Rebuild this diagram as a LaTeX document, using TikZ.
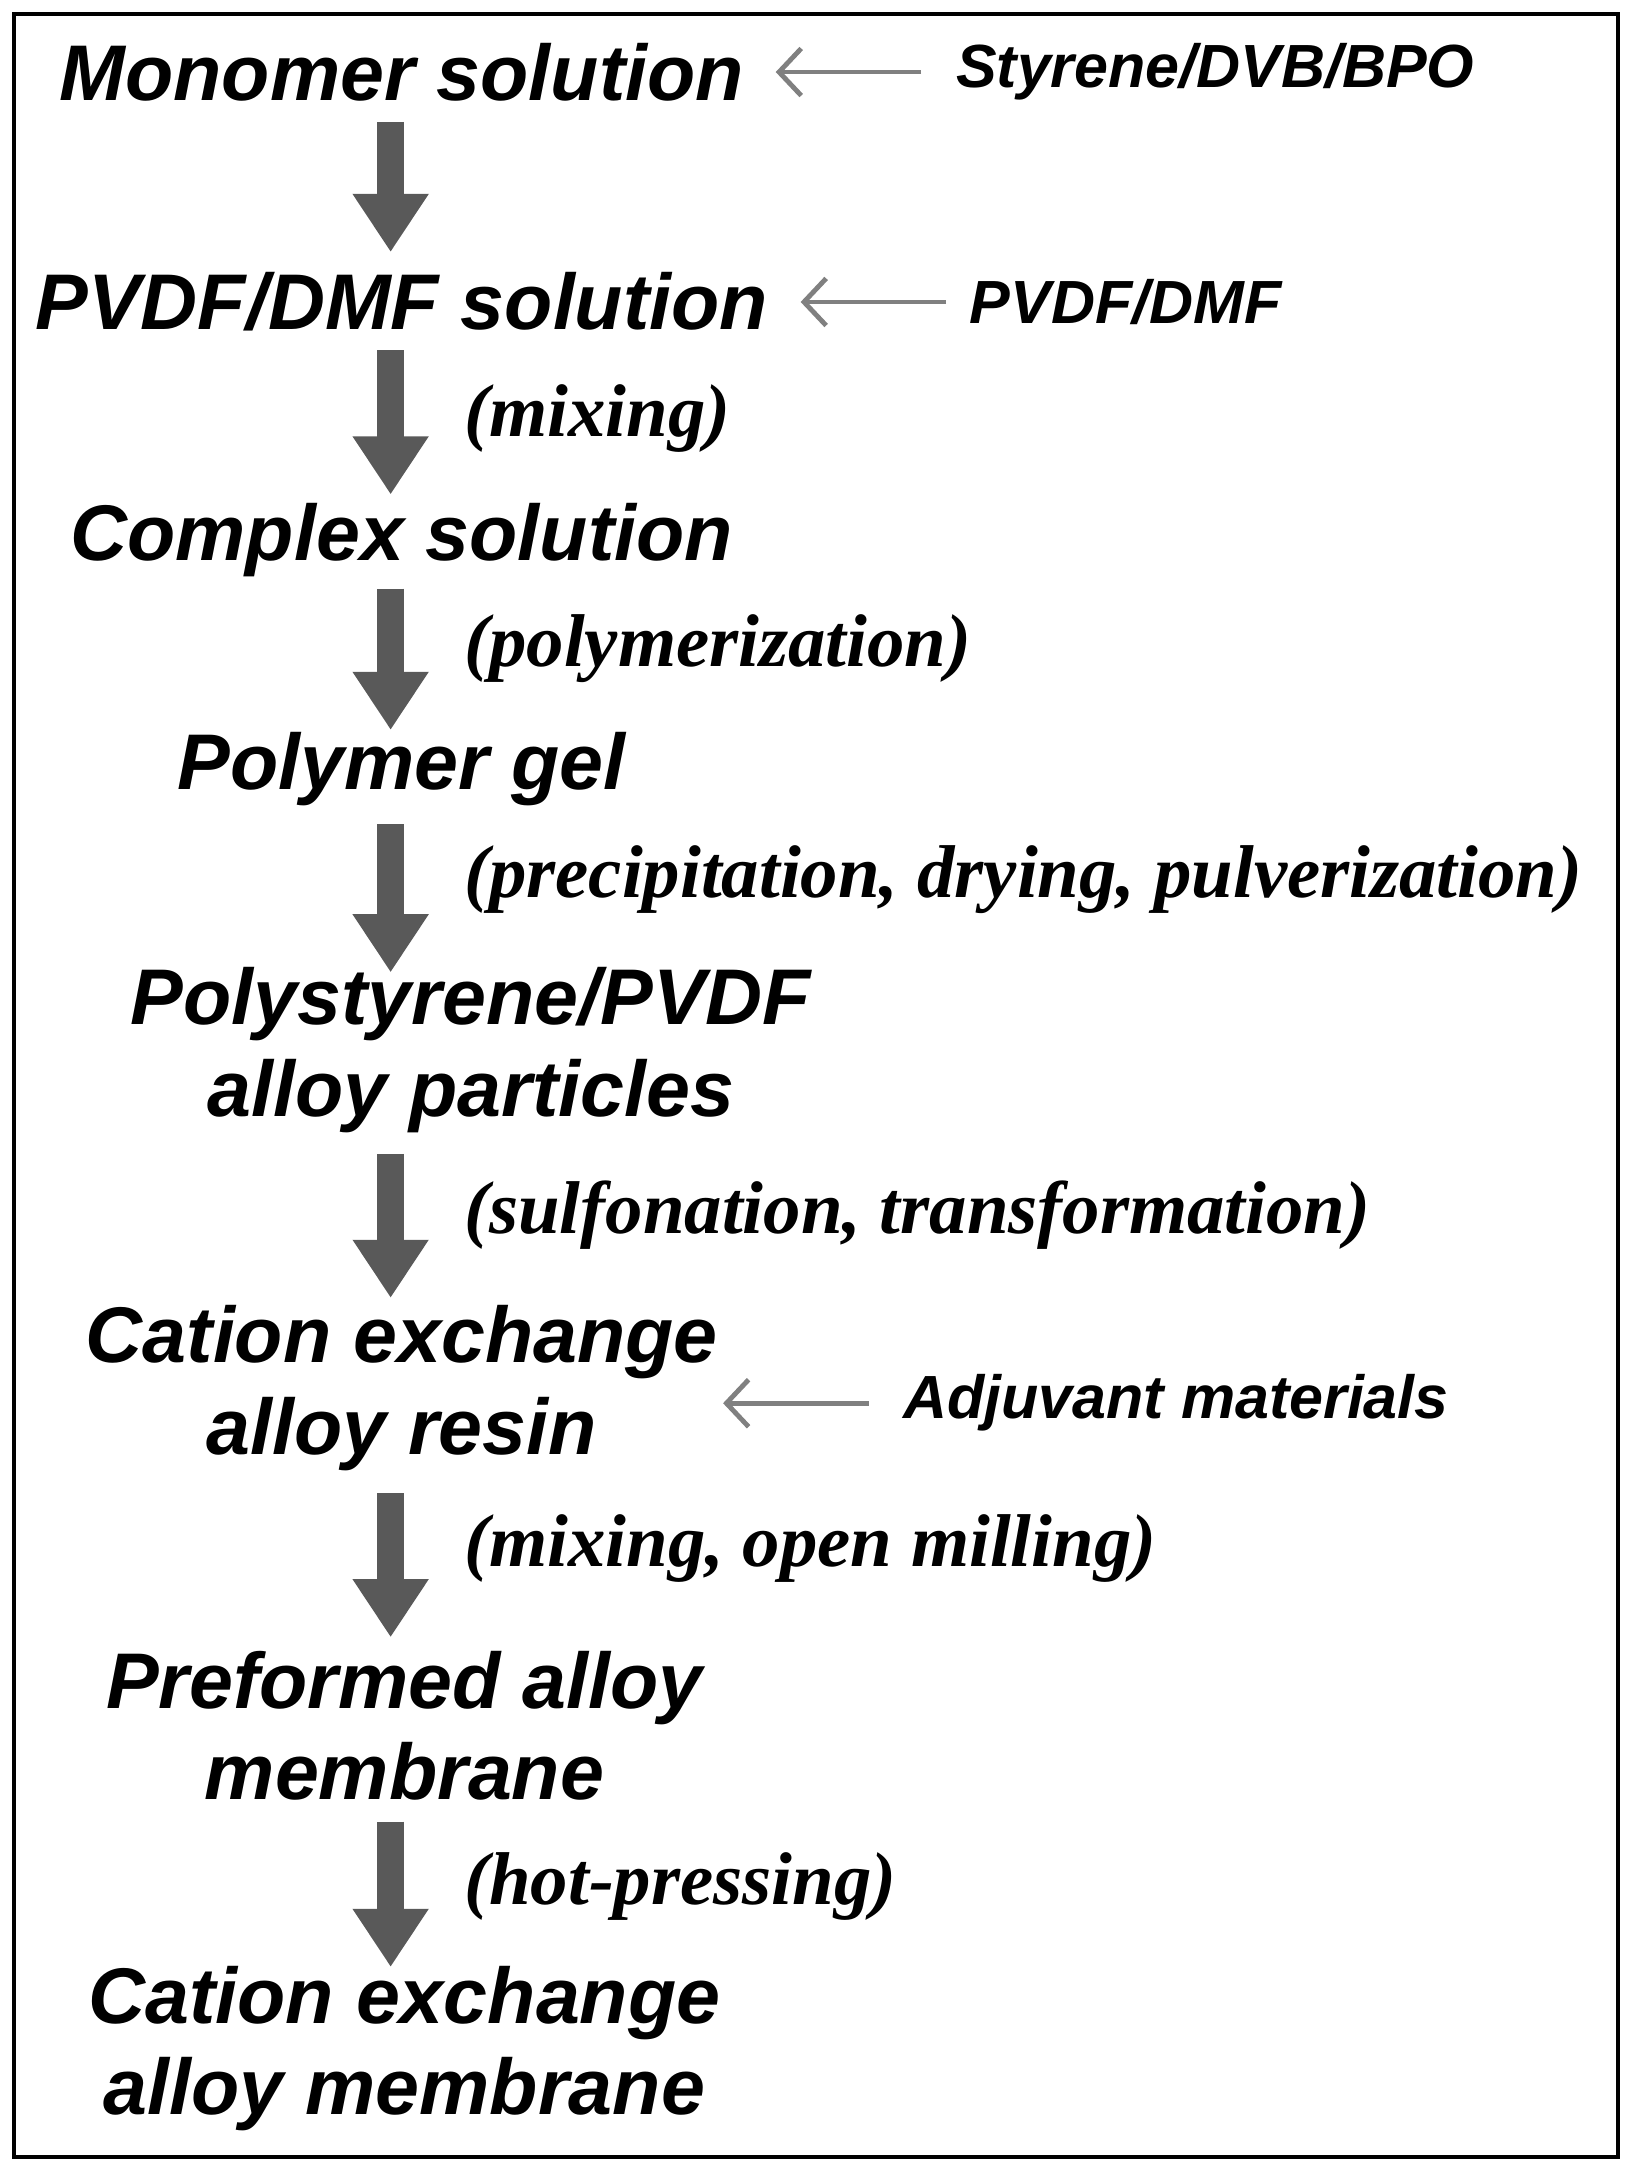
\documentclass[tikz,border=0pt]{standalone}
\usepackage{fontspec}
\setmainfont{Liberation Serif}
\setsansfont{Liberation Sans}
\usetikzlibrary{arrows.meta}
\begin{document}
\begin{tikzpicture}[x=1pt,y=-1pt,
  main/.style={font=\sffamily\bfseries\itshape\fontsize{57}{66}\selectfont,align=center,inner sep=0},
  side/.style={font=\sffamily\bfseries\itshape\fontsize{44}{46}\selectfont,anchor=west,inner sep=0},
  proc/.style={font=\rmfamily\bfseries\itshape\fontsize{54}{56}\selectfont,anchor=west,inner sep=0},
  thick arrow/.style={draw=black!65,line width=20pt,-{Triangle[length=42pt,width=52pt]}},
  thin arrow/.style={draw=black!50,line width=3.5pt,-{Straight Barb[length=16pt,width=34pt]}}]
\useasboundingbox (0,0) rectangle (1179,1568);
\draw[line width=2.5pt] (10,10) rectangle (1168,1557);
\node[main] (m1) at (290,52) {Monomer solution};
\node[main] (m2) at (290,218) {PVDF/DMF solution};
\node[main] (m3) at (290,390) {Complex solution};
\node[main] (m4) at (290,555) {Polymer gel};
\node[main] (m5) at (340,758) {Polystyrene/PVDF\\alloy particles};
\node[main] (m6) at (290,1002) {Cation exchange\\alloy resin};
\node[main] (m7) at (292,1246) {Preformed alloy\\membrane};
\node[main] (m8) at (292,1479) {Cation exchange\\alloy membrane};
\node[side] (s1) at (690,52) {Styrene/DVB/BPO};
\node[side] (s2) at (700,218) {PVDF/DMF};
\node[side] (s3) at (652,1013) {Adjuvant materials};
\coordinate (e1) at (560,52);
\coordinate (e2) at (578,218);
\coordinate (e3) at (522,1013);
\draw[thin arrow] (s1.west) ++(-25,0) -- (e1);
\draw[thin arrow] (s2.west) ++(-17,0) -- (e2);
\draw[thin arrow] (s3.west) ++(-25,0) -- (e3);
\node[proc] (p1) at (335,302) {(mixing)};
\node[proc] (p2) at (335,468) {(polymerization)};
\node[proc] (p3) at (335,635) {(precipitation, drying, pulverization)};
\node[proc] (p4) at (335,877) {(sulfonation, transformation)};
\node[proc] (p5) at (335,1118) {(mixing, open milling)};
\node[proc] (p6) at (335,1362) {(hot-pressing)};
\foreach \a/\b/\n in {88/182/1,253/357/2,425/527/3,595/702/4,833/937/5,1078/1182/6,1315/1420/7}{
  \coordinate (a\n) at (282,\a); \coordinate (b\n) at (282,\b);
  \draw[thick arrow] (a\n) -- (b\n);}
\end{tikzpicture}
\end{document}
